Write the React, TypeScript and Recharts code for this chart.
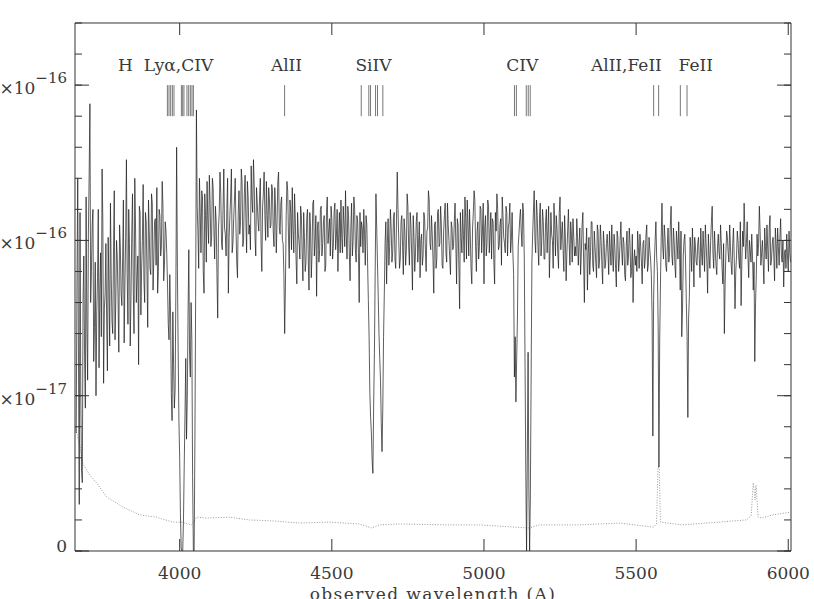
import React from "react";
import { LineChart, Line, XAxis, YAxis, ReferenceLine, ReferenceDot } from "recharts";

// flux in units of 1e-17, linear dispersion; FLUX_HALF holds the pixels half a step later
const WAVE_START = 3660;
const WAVE_STEP = 5;
const FLUX = [
  3.8, 12.0, 1.5, 5.0, 2.2, 9.5, 4.6, 7.2,
  10.2, 14.4, 9.0, 11.0, 7.2, 5.0, 8.8, 5.9, 9.6, 12.3, 5.4, 8.3, 7.4, 10.1, 6.6, 8.9, 7.0, 11.6, 8.0, 9.4,
  6.4, 9.8, 7.9, 11.3, 8.6, 12.6, 7.3, 9.9, 8.2, 11.5, 7.0, 10.4, 8.8, 6.0, 10.9, 9.1, 11.8, 8.0, 10.6, 7.2,
  10.3, 8.9, 11.2, 9.4, 10.7, 11.7, 9.0, 10.8, 9.8, 11.1, 9.2, 10.3, 8.6, 6.8, 7.6, 4.2, 6.0, 5.2, 13.0, 6.5,
  3.0, 0.1, 0.0, 2.8, 6.2, 4.9, 9.7, 5.6, 6.8, 0.0, 3.5, 14.2, 10.3, 12.0, 9.6, 11.4, 8.3, 10.8, 11.9, 9.9,
  11.2, 10.1, 11.7, 9.4, 10.6, 7.5, 10.9, 11.5, 9.7, 12.3, 10.2, 11.0, 8.3, 10.8, 12.3, 9.9, 11.3, 10.4, 8.8, 11.6,
  10.6, 11.9, 10.0, 12.1, 9.6, 11.4, 10.5, 12.4, 10.9, 11.8, 9.5, 11.2, 10.3, 12.0, 9.0, 11.5, 10.8, 11.9, 10.1, 11.3,
  10.5, 11.6, 9.8, 11.1, 10.6, 12.2, 10.2, 11.4, 9.9, 7.0, 10.8, 11.6, 9.1, 10.9, 11.7, 9.6, 10.7, 8.6, 10.2, 9.4,
  10.8, 8.7, 10.1, 9.3, 11.0, 8.4, 10.4, 9.6, 11.3, 10.0, 8.2, 10.6, 9.7, 11.1, 9.9, 10.8, 9.2, 11.4, 10.3, 9.5,
  10.7, 9.8, 11.2, 10.1, 9.0, 10.9, 11.3, 9.6, 10.5, 11.6, 9.4, 10.8, 8.7, 11.2, 10.0, 11.0, 9.3, 10.6, 8.0, 9.8,
  10.4, 11.0, 9.2, 10.5, 8.1, 5.1, 3.8, 2.5, 6.4, 11.5, 9.3, 7.0, 5.5, 3.2, 6.9, 9.9, 8.6, 10.7, 9.8, 10.4,
  9.6, 10.9, 9.1, 12.2, 10.0, 9.4, 10.8, 8.9, 10.3, 9.7, 11.1, 9.2, 10.5, 8.4, 10.1, 9.6, 10.9, 9.9, 8.8, 10.2,
  9.5, 10.7, 9.0, 10.4, 11.3, 9.7, 10.2, 8.3, 10.6, 9.4, 11.0, 9.9, 10.5, 9.1, 10.8, 9.6, 11.2, 10.0, 8.9, 10.4,
  9.8, 11.2, 8.6, 10.5, 7.8, 10.1, 11.0, 9.3, 10.7, 11.3, 9.5, 10.2, 8.6, 10.9, 11.3, 9.0, 10.6, 9.8, 11.0, 10.3,
  8.6, 10.8, 9.9, 11.1, 10.2, 9.4, 10.6, 8.6, 10.3, 11.0, 9.8, 10.7, 11.4, 10.1, 9.6, 10.9, 10.4, 11.2, 10.0, 9.6,
  5.6, 4.8, 7.5, 10.2, 11.0, 9.8, 10.9, 6.0, 0.0, 6.4, 0.0, 5.6, 10.2, 11.6, 9.6, 10.8, 9.2, 11.2, 10.0, 10.6,
  9.4, 11.0, 10.3, 8.8, 10.9, 10.0, 11.2, 9.5, 10.4, 9.1, 11.4, 10.2, 9.7, 10.8, 8.7, 10.3, 9.9, 10.6, 9.3, 10.1,
  9.8, 10.7, 9.2, 10.4, 9.6, 10.9, 8.0, 9.7, 8.4, 10.1, 9.5, 10.6, 9.0, 9.8, 8.8, 10.3, 9.4, 10.0, 8.6, 9.9,
  9.3, 10.2, 8.9, 9.7, 10.5, 9.0, 9.8, 8.5, 10.1, 9.4, 10.6, 9.2, 9.9, 8.7, 10.3, 9.5, 9.9, 9.0, 8.0, 9.7,
  9.5, 10.3, 9.1, 9.8, 8.6, 10.0, 9.4, 10.5, 9.2, 9.7, 8.9, 3.7, 9.3, 10.6, 9.0, 2.7, 8.6, 11.2, 9.4, 10.1,
  9.0, 10.4, 9.6, 11.1, 9.2, 10.0, 8.8, 9.9, 10.6, 8.4, 6.9, 9.5, 10.2, 8.0, 4.3, 8.2, 9.7, 10.4, 8.5, 9.8,
  9.2, 10.1, 8.8, 9.6, 10.3, 9.0, 9.9, 8.3, 9.5, 10.0, 11.1, 9.1, 9.7, 8.9, 10.2, 9.4, 9.9, 8.6, 7.0, 9.6,
  10.1, 9.3, 9.8, 8.9, 10.4, 7.8, 9.5, 10.0, 9.1, 7.9, 10.3, 11.2, 9.4, 10.6, 8.8, 9.7, 10.2, 8.4, 6.1, 8.9,
  9.5, 11.1, 9.2, 10.0, 8.6, 9.8, 10.5, 9.0, 10.8, 9.4, 10.1, 8.7, 9.9, 10.4, 9.2, 10.7, 9.3, 8.5, 9.7, 10.2,
  9.0, 9.6,
];
const FLUX_HALF = [
  8.6, 6.0, 10.9, 2.6, 8.1, 6.3, 11.4, 5.5,
  12.1, 8.0, 10.5, 6.1, 9.3, 7.7, 11.0, 8.4, 6.9, 10.6, 7.8, 9.9, 5.8, 8.5, 11.2, 7.4, 9.6, 6.8, 10.0, 8.1,
  10.5, 8.3, 9.4, 6.7, 10.1, 8.9, 11.0, 6.6, 10.2, 8.4, 12.0, 8.0, 9.5, 11.1, 7.6, 10.0, 8.7, 10.9, 9.0, 11.3,
  9.1, 11.5, 8.4, 10.6, 9.2, 8.3, 11.0, 9.5, 11.9, 8.7, 10.6, 9.6, 7.3, 8.9, 5.1, 7.7, 4.6, 8.4, 9.1, 4.2,
  1.2, 0.0, 1.0, 4.4, 3.6, 7.6, 6.3, 8.0, 2.4, 0.0, 8.2, 11.1, 9.1, 10.9, 11.6, 9.0, 11.5, 9.3, 10.6, 12.1,
  9.8, 12.0, 10.3, 11.1, 8.9, 10.4, 12.2, 9.9, 11.0, 10.4, 9.5, 12.0, 10.1, 11.4, 9.6, 10.7, 12.0, 9.3, 10.9, 10.2,
  12.3, 9.8, 11.5, 10.7, 11.9, 10.2, 9.7, 11.3, 12.6, 10.1, 11.7, 10.6, 11.4, 9.9, 11.1, 12.2, 10.0, 10.8, 11.7, 10.4,
  11.8, 10.3, 11.7, 9.6, 11.9, 10.4, 11.2, 10.0, 8.9, 8.5, 11.9, 10.2, 11.3, 9.7, 10.4, 11.5, 9.4, 10.9, 9.9, 11.1,
  9.6, 10.9, 9.0, 10.7, 9.4, 10.9, 8.8, 11.2, 9.5, 10.8, 10.4, 9.3, 11.0, 9.5, 10.6, 9.0, 10.9, 9.9, 10.7, 11.1,
  9.4, 10.9, 9.7, 11.0, 10.2, 9.6, 10.1, 11.1, 9.8, 10.2, 11.1, 9.6, 10.4, 9.5, 11.4, 9.7, 10.8, 9.6, 10.9, 10.6,
  9.6, 10.2, 10.8, 9.3, 6.9, 4.3, 2.9, 4.7, 9.0, 10.4, 8.2, 6.2, 4.1, 4.6, 8.3, 10.6, 9.9, 9.2, 11.0, 9.3,
  10.7, 9.4, 10.6, 11.0, 9.1, 10.6, 9.8, 10.7, 9.2, 11.5, 9.8, 10.9, 9.5, 10.8, 9.0, 10.6, 9.3, 10.6, 10.0, 9.2,
  10.9, 9.7, 10.3, 11.6, 9.9, 10.8, 9.4, 10.5, 9.1, 10.9, 9.8, 11.1, 9.2, 10.3, 11.2, 9.3, 10.5, 9.4, 10.6, 9.7,
  10.6, 9.9, 10.7, 9.2, 10.9, 9.6, 10.2, 11.4, 9.4, 10.5, 11.0, 9.1, 10.4, 11.6, 9.8, 10.3, 9.4, 11.1, 9.6, 11.2,
  10.4, 9.5, 11.3, 9.6, 10.9, 10.7, 9.3, 10.9, 11.5, 9.7, 10.5, 9.2, 10.8, 9.9, 11.1, 9.5, 10.6, 9.6, 10.9, 8.9,
  6.9, 6.2, 9.8, 10.7, 10.3, 11.2, 9.4, 2.5, 3.1, 2.0, 1.8, 9.3, 10.9, 10.0, 11.3, 9.8, 10.7, 9.5, 11.0, 9.4,
  10.6, 9.6, 11.1, 9.8, 10.2, 9.1, 10.5, 10.8, 9.6, 10.9, 9.7, 10.6, 9.0, 10.1, 9.6, 11.0, 9.2, 10.2, 10.7, 9.5,
  9.5, 10.1, 9.9, 8.9, 10.5, 9.3, 9.9, 10.4, 9.6, 8.9, 10.6, 9.2, 10.3, 9.3, 10.5, 9.1, 10.5, 9.2, 10.3, 9.1,
  9.9, 9.6, 10.3, 9.2, 9.6, 10.2, 9.1, 10.3, 9.0, 10.0, 9.7, 10.1, 8.9, 9.8, 9.2, 10.4, 8.8, 10.2, 9.3, 9.2,
  9.0, 9.8, 10.2, 9.3, 9.9, 9.1, 10.2, 9.0, 10.1, 9.4, 7.6, 8.1, 10.0, 9.5, 7.2, 6.8, 10.1, 9.8, 10.5, 9.2,
  9.8, 9.3, 10.5, 9.5, 10.4, 9.2, 10.3, 9.4, 9.7, 10.3, 7.8, 10.0, 9.3, 6.9, 7.5, 10.1, 9.0, 9.6, 10.1, 9.3,
  9.9, 9.4, 10.4, 9.2, 9.7, 10.5, 9.3, 10.2, 9.1, 10.6, 9.6, 10.3, 9.2, 9.8, 9.6, 10.5, 9.1, 9.9, 8.6, 10.3,
  9.6, 10.5, 9.2, 9.9, 9.4, 9.0, 10.3, 9.4, 10.6, 9.3, 9.8, 10.2, 9.9, 9.5, 10.0, 9.3, 9.5, 9.3, 8.0, 10.2,
  9.9, 10.3, 9.6, 9.3, 10.4, 9.4, 9.7, 10.4, 9.2, 9.9, 9.5, 10.4, 9.1, 9.8, 10.1, 9.5, 10.0, 9.6, 9.1, 9.5,
  10.3, 9.3,
];

// error spectrum (dotted)
const ERR_WAVE = [
  3656, 3672, 3681, 3704, 3727, 3760, 3813, 3869, 3924, 3977, 4007, 4039, 4056, 4089, 4164, 4229,
  4305, 4394, 4493, 4591, 4631, 4657, 4722, 4887, 4985, 5100, 5149, 5182, 5314, 5445, 5557, 5567,
  5572, 5576, 5580, 5649, 5773, 5862, 5878, 5885, 5891, 5894, 5901, 5914, 5947, 6006,
];
const ERR_FLUX = [
  3.99, 3.41, 2.83, 2.45, 2.19, 1.74, 1.42, 1.16, 1.09, 0.93, 0.93, 0.84, 1.09, 1.06, 1.09, 1.0,
  0.97, 0.9, 0.93, 0.87, 0.74, 0.84, 0.87, 0.84, 0.84, 0.77, 0.74, 0.84, 0.84, 0.9, 0.77, 0.87,
  2.7, 2.67, 0.93, 0.84, 0.93, 1.0, 1.13, 2.19, 1.64, 2.12, 1.09, 1.06, 1.16, 1.25,
];

const X_DOMAIN = [3656, 6009];
const X_TICKS = [
  3700, 3800, 3900, 4000, 4100, 4200, 4300, 4400, 4500, 4600, 4700, 4800,
  4900, 5000, 5100, 5200, 5300, 5400, 5500, 5600, 5700, 5800, 5900, 6000,
];
const X_MAJOR = [4000, 4500, 5000, 5500, 6000];
const Y_DOMAIN = [0, 17];
const Y_TICKS = [0, 1, 2, 3, 4, 5, 6, 7, 8, 9, 10, 11, 12, 13, 14, 15, 16, 17];
const Y_MAJOR = [0, 5, 10, 15];
const Y_MANT = ["0", "5×10", "1×10", "1.5×10"];
const Y_EXP = ["", "−17", "−16", "−16"];

// absorption line identifications
const MARK_WAVES = [
  3959.6, 3964.9, 3970.4, 3976.0, 3981.3, 4005.6, 4009.9, 4014.1, 4024.0, 4029.6, 4035.1, 4040.4, 4045.0,
  4344.8,
  4596.7, 4621.6, 4627.3, 4643.7, 4650.2, 4667.7,
  5100.2, 5106.5, 5139.0, 5145.5, 5152.0,
  5557.6, 5574.0,
  5645.3, 5667.3,
];
const LABEL_TEXT = ["H\u00a0\u00a0Lyα,CIV", "AlII", "SiIV", "CIV", "AlII,FeII", "FeII"];
const LABEL_WAVES = [3954, 4351, 4637, 5126, 5468, 5696];

const AX = "#333";
const TXT = "#3a3a3a";
const FONT = "'DejaVu Serif', serif";
// every axis box is near-zero in size, so the frame sits on the margins
const THIN = 0.01;

const spectrum = FLUX.flatMap((f, i) => [
  { wave: WAVE_START + i * WAVE_STEP, flux: f },
  { wave: WAVE_START + (i + 0.5) * WAVE_STEP, flux: FLUX_HALF[i] },
]);
const noise = ERR_WAVE.map((w, i) => ({ wave: w, err: ERR_FLUX[i] }));

const NoLabel = () => <g />;

function LeftLabel({ x, y, payload }: any) {
  const idx = Y_MAJOR.indexOf(payload.value);
  if (idx === 0) {
    return (
      <text x={x} y={y + 1} textAnchor="end" fontFamily={FONT} fontSize={17} fill={TXT}>
        {Y_MANT[0]}
      </text>
    );
  }
  return (
    <text x={x} y={y + 9} textAnchor="end" fontFamily={FONT} fontSize={17} fill={TXT}>
      {Y_MANT[idx]}
      <tspan dy={-11} fontSize={15}>
        {Y_EXP[idx]}
      </tspan>
    </text>
  );
}

function XLabel({ viewBox }: any) {
  return (
    <text
      x={viewBox.x + viewBox.width / 2}
      y={viewBox.y + 49}
      textAnchor="middle"
      fontFamily={FONT}
      fontSize={17}
      fill={TXT}
      style={{ letterSpacing: 1.4 }}
    >
      observed wavelength (A)
    </text>
  );
}

const common = { type: "number" as const, allowDataOverflow: true, interval: 0 as const };

export default function App() {
  return (
    <div style={{ position: "absolute", left: 0, top: 0, background: "#fff" }}>
      <LineChart
        width={814}
        height={599}
        margin={{ top: 23 - 2 * THIN, right: 23 - 2 * THIN, bottom: 48 - 2 * THIN, left: 75 - 2 * THIN }}
      >
        <XAxis
          {...common}
          xAxisId="bm"
          orientation="bottom"
          domain={X_DOMAIN}
          ticks={X_TICKS}
          tick={NoLabel}
          tickSize={-5}
          height={THIN}
          axisLine={{ stroke: AX }}
          tickLine={{ stroke: AX }}
        />
        <XAxis
          {...common}
          xAxisId="b"
          orientation="bottom"
          dataKey="wave"
          domain={X_DOMAIN}
          ticks={X_MAJOR}
          tick={{ fill: TXT, fontSize: 17, fontFamily: FONT }}
          tickSize={-12}
          tickMargin={28}
          height={THIN}
          axisLine={false}
          tickLine={{ stroke: AX }}
          label={<XLabel />}
        />
        <XAxis
          {...common}
          xAxisId="tm"
          orientation="top"
          domain={X_DOMAIN}
          ticks={X_TICKS}
          tick={NoLabel}
          tickSize={-5}
          height={THIN}
          axisLine={{ stroke: AX }}
          tickLine={{ stroke: AX }}
        />
        <XAxis
          {...common}
          xAxisId="t"
          orientation="top"
          dataKey="wave"
          domain={X_DOMAIN}
          ticks={X_MAJOR}
          tick={NoLabel}
          tickSize={-12}
          height={THIN}
          axisLine={false}
          tickLine={{ stroke: AX }}
        />
        <YAxis
          {...common}
          yAxisId="lm"
          domain={Y_DOMAIN}
          ticks={Y_TICKS}
          tick={NoLabel}
          tickSize={-7}
          width={THIN}
          axisLine={{ stroke: AX }}
          tickLine={{ stroke: AX }}
        />
        <YAxis
          {...common}
          yAxisId="l"
          domain={Y_DOMAIN}
          ticks={Y_MAJOR}
          tick={LeftLabel}
          tickSize={-14}
          tickMargin={22}
          width={THIN}
          axisLine={false}
          tickLine={{ stroke: AX }}
        />
        <YAxis
          {...common}
          yAxisId="rm"
          orientation="right"
          domain={Y_DOMAIN}
          ticks={Y_TICKS}
          tick={NoLabel}
          tickSize={-7}
          width={THIN}
          axisLine={{ stroke: AX }}
          tickLine={{ stroke: AX }}
        />
        <YAxis
          {...common}
          yAxisId="r"
          orientation="right"
          domain={Y_DOMAIN}
          ticks={Y_MAJOR}
          tick={NoLabel}
          tickSize={-14}
          width={THIN}
          axisLine={false}
          tickLine={{ stroke: AX }}
        />
        <Line
          xAxisId="t"
          yAxisId="r"
          data={noise}
          dataKey="err"
          type="linear"
          stroke="#9a9a9a"
          strokeWidth={1}
          strokeDasharray="1 1.6"
          dot={false}
          isAnimationActive={false}
        />
        <Line
          xAxisId="b"
          yAxisId="l"
          data={spectrum}
          dataKey="flux"
          type="linear"
          stroke="#1a1a1a"
          strokeWidth={0.7}
          dot={false}
          isAnimationActive={false}
        />
        {MARK_WAVES.map((w) => (
          <ReferenceLine
            key={w}
            xAxisId="b"
            yAxisId="l"
            segment={[
              { x: w, y: 14.0 },
              { x: w, y: 15.0 },
            ]}
            stroke="#777"
            strokeWidth={1}
          />
        ))}
        {LABEL_WAVES.map((w, i) => (
          <ReferenceDot
            key={w}
            xAxisId="b"
            yAxisId="l"
            x={w}
            y={15.64}
            r={0}
            fill="none"
            stroke="none"
            label={{ value: LABEL_TEXT[i], position: "center", fill: TXT, fontSize: 17, fontFamily: FONT }}
          />
        ))}
      </LineChart>
    </div>
  );
}
